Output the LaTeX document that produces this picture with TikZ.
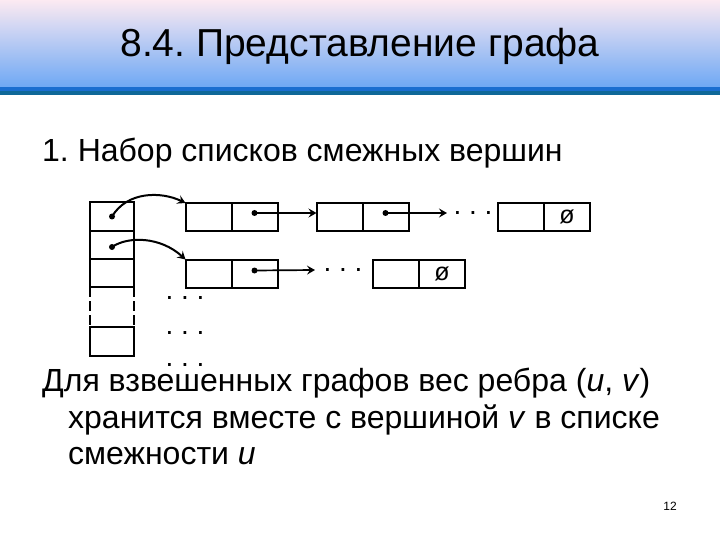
\documentclass[tikz,border=0pt]{standalone}
\usepackage{fontspec}
\setmainfont{Liberation Sans}
\usetikzlibrary{arrows.meta, positioning, calc}
\definecolor{hdtop}{HTML}{FCEAF2}
\definecolor{hdmid}{HTML}{C4D6F6}
\definecolor{hdbot}{HTML}{6EA8F4}
\definecolor{barblue}{HTML}{1A6ED0}
\definecolor{barteal}{HTML}{0F6898}
\tikzset{
    cell/.style={rectangle, draw, line width=2pt, minimum width=44pt, minimum height=28pt, inner sep=0pt, outer sep=0pt},
    half/.style={rectangle, draw, line width=2pt, minimum width=46pt, minimum height=28pt, inner sep=0pt, outer sep=0pt, font=\fontsize{25}{25}\selectfont},
    link/.style={line width=2pt, -{Stealth[length=8pt, width=9pt, inset=3pt]}},
    arrowline/.style={line width=1.7pt, -{Stealth[length=8pt, width=9pt, inset=3pt]}},
    ptr/.style={circle, fill, inner sep=0pt, minimum size=6pt}
}
\frenchspacing

\begin{document}
\begin{tikzpicture}[x=1pt, y=-1pt, font=\fontsize{32}{38}\selectfont,
    txt/.style={anchor=base west, inner sep=0pt},
    dots/.style={inner sep=0pt, font=\fontsize{28}{28}\selectfont}]

    \useasboundingbox (0,0) rectangle (720,540);
    % header band
    \shade[top color=hdtop, middle color=hdmid, bottom color=hdbot] (0,0) rectangle (720,87);
    \fill[barblue] (0,87) rectangle (720,91);
    \fill[barteal] (0,91) rectangle (720,95);
    \node (title) at (360,46) {\fontsize{39}{39}\selectfont 8.4. Представление графа};

    \node (head) [txt] at (42,162) {1. Набор списков смежных вершин};

    % array of vertices
    \node (c1) [cell, minimum height=29pt] at (112,216.5) {};
    \node (c2) [cell] at (112,245) {};
    \node (c3) [cell] at (112,273) {};
    \node (c5) [cell, minimum height=29pt] at (112,341.5) {};
    \draw [line width=2pt, dash pattern=on 10pt off 4pt] (c3.south west) -- (c5.north west) (c3.south east) -- (c5.north east);

    % adjacency lists
    \node (a1k) [half] at (208.5,217) {};
    \node (a1p) [half, right=0pt of a1k] {};
    \node (a2k) [half] at (339.5,217) {};
    \node (a2p) [half, right=0pt of a2k] {};
    \node (a3k) [half] at (521,217) {};
    \node (a3p) [half, right=0pt of a3k] {ø};
    \node (b1k) [half] at (208.5,273.5) {};
    \node (b1p) [half, right=0pt of b1k] {};
    \node (b2k) [half] at (396,273.5) {};
    \node (b2p) [half, right=0pt of b2k] {ø};

    % pointers
    \node (d0) [ptr] at (c1.center) {};
    \node (d1) [ptr] at ($(c2.center)+(0,2)$) {};
    \node (d2) [ptr] at ($(a1p.center)+(0,-4)$) {};
    \node (d3) [ptr] at ($(a2p.center)+(0,-4)$) {};
    \node (d4) [ptr] at ($(b1p.center)+(0,-3)$) {};
    \coordinate (e1) at (447,213);
    \coordinate (e2) at (315,270);

    \draw [link] (d0.center) .. controls +(15,-25) and +(-25,-12) .. (a1k.north west);
    \draw [link] (d1.center) .. controls +(16,-11) and +(-25,-23) .. (b1k.north west);
    \draw [arrowline] (d2.center) -- (d2.center -| a2k.west);
    \draw [arrowline] (d3.center) -- (e1);
    \draw [arrowline] (d4.center) -- (e2);

    \node (g1) [dots] at (473,213) {. . .};
    \node (g2) [dots] at (343,270) {. . .};
    \node (v1) [dots] at (185,298) {. . .};
    \node (v2) [dots] at (185,333) {. . .};
    \node (v3) [dots] at (185,365) {. . .};

    \node (w1) [txt] at (42,391) {Для взвешенных графов вес ребра (\textit{u}, \textit{v})};
    \node (w2) [txt] at (68,428) {хранится вместе с вершиной \textit{v} в списке};
    \node (w3) [txt] at (68,464) {смежности \textit{u}};
    \node (pg) at (670,506) {\fontsize{12}{12}\selectfont 12};
\end{tikzpicture}
\end{document}
